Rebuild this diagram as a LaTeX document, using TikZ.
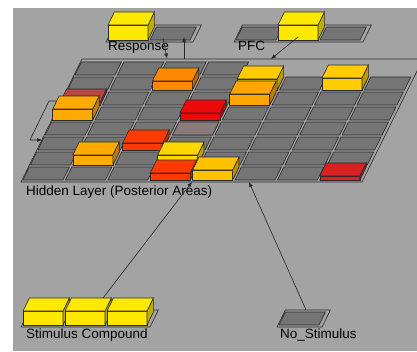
\documentclass[tikz,border=0pt]{standalone}
\usepackage{fontspec}
\setmainfont{Liberation Sans}
\usetikzlibrary{arrows.meta}

\definecolor{bggrey}{HTML}{A3A3A3}
\definecolor{cellgrey}{HTML}{757575}
\definecolor{lineg}{HTML}{2A2A2A}
\definecolor{actyellow}{HTML}{FFE800}
\definecolor{actgold}{HTML}{FFCC00}
\definecolor{actamber}{HTML}{FFAA00}
\definecolor{actorange}{HTML}{FF8800}
\definecolor{actscarlet}{HTML}{FF3A00}
\definecolor{actred}{HTML}{EE0A0A}
\definecolor{actcrimson}{HTML}{D82222}
\definecolor{actbrick}{HTML}{B84444}
\definecolor{actmauve}{HTML}{8A7B7B}

\tikzset{
  cellline/.style={draw=lineg, line width=0.6pt},
  frameline/.style={draw=lineg, line width=0.6pt},
  conn/.style={draw=black!85, line width=0.6pt, -{Latex[length=5pt,width=4pt]}},
  lbl/.style={anchor=base west, inner sep=0pt, text=black, font=\fontsize{13.5}{16}\selectfont}
}

% flat unit: x0, bottom y, colour
\newcommand{\unitcell}[3]{\filldraw[cellline,fill=#3] ({#1},{#2}) -- ++(40,0) -- ++(6.4,-13) -- ++(-40,0) -- cycle;}
% raised unit: x0, bottom y, height, colour
\newcommand{\unitbox}[4]{%
  \filldraw[cellline,fill=#4] ({#1},{#2}) rectangle ++(40,-#3);
  \filldraw[cellline,fill=#4!75!black] ({#1+40},{#2}) -- ++(0,-#3) -- ++(6.4,-13) -- ++(0,#3) -- cycle;
  \filldraw[cellline,fill=#4] ({#1},{#2-#3}) -- ++(40,0) -- ++(6.4,-13) -- ++(-40,0) -- cycle;}
% hidden layer: row, column
\newcommand{\hidcell}[3]{\unitcell{23+7.43*#1+42.4*#2}{180-15*#1}{#3}}
\newcommand{\hidbox}[4]{\unitbox{23+7.43*#1+42.4*#2}{180-15*#1}{#3}{#4}}

\begin{document}
\begin{tikzpicture}[x=1pt,y=-1pt]
  \useasboundingbox (0,0) rectangle (417,351);
  \clip (0,0) rectangle (417,351);
  \fill[white] (0,0) rectangle (417,351);
  \fill[bggrey] (13,8) rectangle (417,351);

  % hidden layer
  \draw[frameline] (21,182) -- (362,182) -- (423,59) -- (82,59) -- cycle;
  \foreach \r in {0,...,6} {\foreach \c in {0,...,7} {\hidcell{\r}{\c}{cellgrey}}}
  \foreach \c in {0,...,3} {\hidcell{7}{\c}{cellgrey}}
  \hidcell{3}{3}{actmauve}
  \hidbox{6}{2}{9}{actorange}
  \hidbox{6}{4}{11}{actgold}
  \hidbox{6}{6}{12}{actgold}
  \hidbox{5}{0}{3}{actbrick}
  \hidbox{5}{4}{11}{actamber!90!actorange}
  \hidbox{4}{0}{11}{actamber}
  \hidbox{4}{3}{7}{actred}
  \hidbox{2}{2}{7}{actscarlet}
  \hidbox{1}{1}{10}{actamber}
  \hidbox{1}{3}{10}{actgold!60!actyellow}
  \hidbox{0}{3}{7}{actscarlet}
  \hidbox{0}{4}{10}{actgold!70!actamber}
  \hidbox{0}{7}{4}{actcrimson}
  \node[lbl] (hidlabel) at (26,195) {Hidden Layer (Posterior Areas)};

  % response layer
  \draw[frameline] (106,42) -- (193,42) -- (201.4,25) -- (114.4,25) -- cycle;
  \unitcell{150}{40}{cellgrey}
  \unitbox{108}{40}{15}{actyellow}
  \node[lbl] (resplabel) at (108,50) {Response};

  % pfc layer
  \draw[frameline] (234,42) -- (363,42) -- (371.4,25) -- (242.4,25) -- cycle;
  \unitcell{236}{40}{cellgrey}
  \unitcell{320}{40}{cellgrey}
  \unitbox{278}{40}{15}{actyellow}
  \node[lbl] (pfclabel) at (238,50) {PFC};

  % stimulus layers
  \draw[frameline] (21,327) -- (150,327) -- (158.4,310) -- (29.4,310) -- cycle;
  \unitbox{23}{325}{14}{actyellow}
  \unitbox{65}{325}{14}{actyellow}
  \unitbox{107}{325}{14}{actyellow}
  \node[lbl] (stimlabel) at (26,338) {Stimulus Compound};

  \draw[frameline] (277,327) -- (322,327) -- (330.4,310) -- (285.4,310) -- cycle;
  \unitcell{279}{325}{cellgrey}
  \node[lbl] (nostimlabel) at (280,338) {No\_Stimulus};

  % projections
  \coordinate (respout) at (163,38);
  \coordinate (hidinresp) at (167,58.5);
  \coordinate (hidout) at (184,59);
  \coordinate (respin) at (184,37);
  \coordinate (pfcout) at (298,37);
  \coordinate (hidinpfc) at (271,59);
  \coordinate (stimout) at (103,298);
  \coordinate (hidinstim) at (192,182);
  \coordinate (nostimout) at (306,310);
  \coordinate (hidinnostim) at (249,182);
  \coordinate (hidself) at (56,101);
  \coordinate (selfa) at (49,101);
  \coordinate (selfb) at (30,140);
  \coordinate (hidinself) at (42,140);
  \draw[conn] (respout) -- (hidinresp);
  \draw[conn] (hidout) -- (respin);
  \draw[conn] (pfcout) -- (hidinpfc);
  \draw[conn] (stimout) -- (hidinstim);
  \draw[conn] (nostimout) -- (hidinnostim);
  \draw[conn] (hidself) -- (selfa) -- (selfb) -- (hidinself);
\end{tikzpicture}
\end{document}
